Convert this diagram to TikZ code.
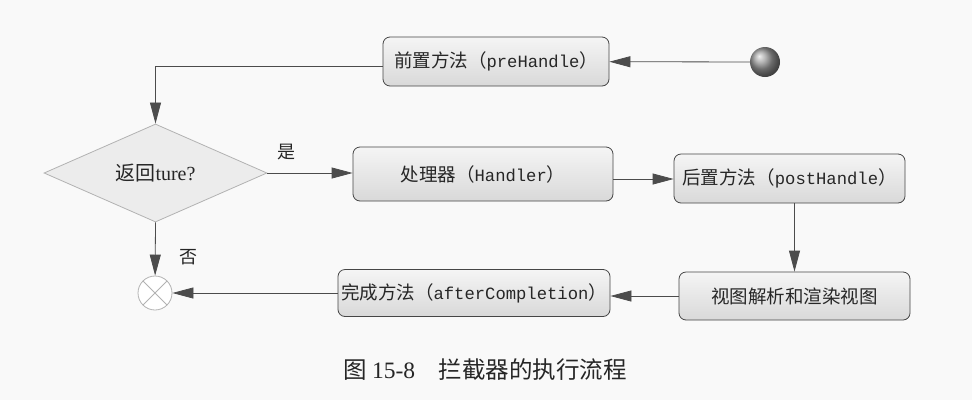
\documentclass[tikz,border=0pt]{standalone}
\usepackage{fontspec}
\newfontfamily\cjk{Noto Sans CJK SC}
\newfontfamily\mono[Scale=0.93]{Liberation Mono}
\newfontfamily\serifl{Liberation Serif}
\usetikzlibrary{shapes.geometric,arrows.meta,calc}
\begin{document}
\begin{tikzpicture}[x=1pt,y=-1pt,
  procbox/.style={draw=gray!55!black, line width=0.8pt, rounded corners=7pt,
    top color=gray!8, bottom color=gray!30, minimum width=#1, inner sep=0pt,
    font=\fontsize{18.5}{21}\selectfont, text=black!85},
  flow/.style={draw=gray!60!black, line width=0.8pt,
    -{Triangle[length=21pt,width=11pt]}, color=gray!60!black},
  lbl/.style={font=\fontsize{18}{20}\selectfont\cjk, text=black!85}]
\fill[gray!5] (0,0) rectangle (972,400);
\useasboundingbox (0,0) rectangle (972,400);
% nodes
\node[procbox=226pt, minimum height=49pt] (pre) at (496,61.5) {\cjk 前置方法（{\mono preHandle}）};
\node[circle, minimum size=30pt, inner sep=0pt, shading=ball, ball color=gray!80] (start) at (765,62) {};
\node[diamond, draw=gray!60, line width=0.8pt, fill=gray!15, minimum width=223pt, minimum height=96pt, inner sep=0pt,
  font=\fontsize{20}{22}\selectfont, text=black!85] (dia) at (155.5,173) {\cjk 返回{\serifl ture?}};
\node[procbox=260pt, minimum height=54pt] (hand) at (483,174) {\cjk 处理器（{\mono Handler}）};
\node[procbox=231pt, minimum height=49pt] (post) at (789.5,178.5) {\cjk 后置方法（{\mono postHandle}）};
\node[procbox=231pt, minimum height=48pt] (view) at (794.5,296) {\cjk 视图解析和渲染视图};
\node[procbox=272pt, minimum height=47pt] (comp) at (474,293) {\cjk 完成方法（{\mono afterCompletion}）};
\node[circle, draw=gray!60, line width=0.8pt, fill=white, minimum size=34pt, inner sep=0pt,
  path picture={\draw[gray!60, line width=0.8pt]
    (path picture bounding box.north west) -- (path picture bounding box.south east)
    (path picture bounding box.north east) -- (path picture bounding box.south west);}] (end) at (155,293) {};
% connectors
\draw[flow] (start) -- (pre);
\draw[flow] ([yshift=-5pt]pre.west) -| (dia.north);
\draw[flow] (dia.east) -- (dia.east -| hand.west);
\draw[flow] ([yshift=-5pt]hand.east) -- ([yshift=-5pt]hand.east -| post.west);
\draw[flow] (post.south -| view.north) -- (view.north);
\draw[flow] (view.west) -- (view.west -| comp.east);
\draw[flow] (comp.west) -- (end);
\draw[flow] (dia.south) -- (end);
% labels
\node[lbl] (yes) at (286,152) {是};
\node[lbl] (no) at (188,257) {否};
\node[font=\fontsize{23.5}{26}\selectfont, text=black!85] (cap) at (485,370)
  {\cjk 图 {\serifl 15-8}\quad 拦截器的执行流程};
\end{tikzpicture}
\end{document}
